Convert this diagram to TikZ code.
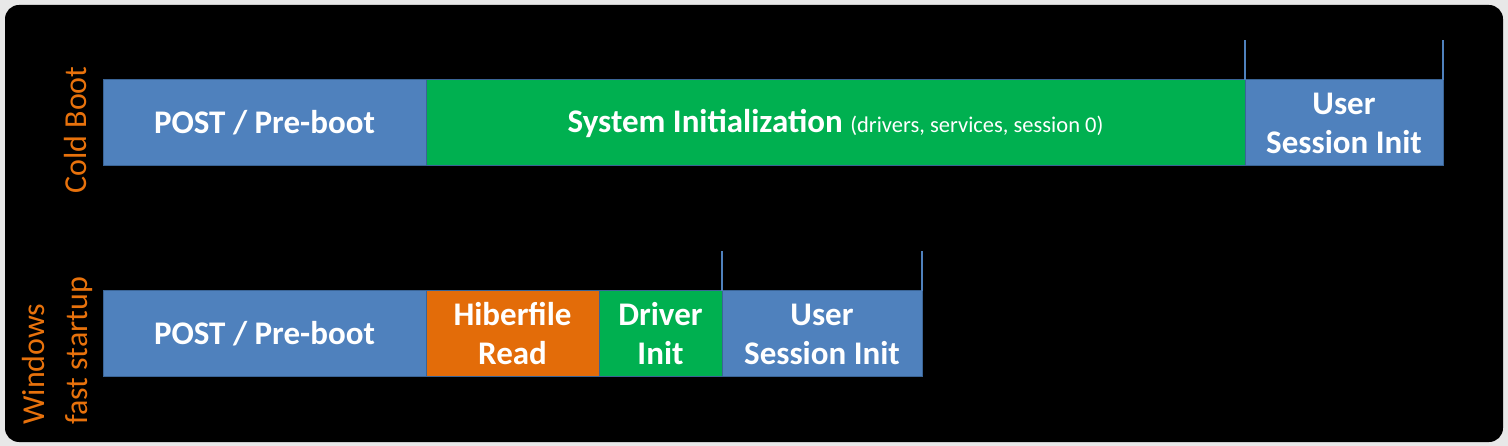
\documentclass[tikz,border=0pt]{standalone}
\usepackage{fontspec}
\setmainfont{Carlito}
\usetikzlibrary{positioning}

\definecolor{phaseblue}{HTML}{4F81BD}
\definecolor{phasegreen}{HTML}{00B050}
\definecolor{phaseorange}{HTML}{E36C09}
\definecolor{phaseline}{HTML}{3A6496}
\definecolor{labelorange}{HTML}{E8720C}

\begin{document}
\begin{tikzpicture}[x=1pt, y=-1pt,
  phase/.style={draw=phaseline, line width=1pt, minimum height=86pt,
    inner sep=0pt, outer sep=0pt, align=center, text=white,
    font=\bfseries\fontsize{33}{39}\selectfont},
  tick/.style={draw=phaseblue, line width=2.5pt},
  rowlabel/.style={text=labelorange, rotate=90, inner sep=0pt,
    font=\fontsize{32}{43}\selectfont}]
% frame
\fill[gray!18] (0,0) rectangle (1508,446);
\fill[black, rounded corners=14pt] (5,5) rectangle (1503,442);

% cold boot
\node[phase, fill=phaseblue, minimum width=323pt, anchor=north west] (post1) at (103,80) {POST / Pre-boot};
\node[phase, fill=phasegreen, minimum width=819pt, right=0pt of post1] (sysinit)
  {System Initialization {\mdseries\fontsize{22.5}{26}\selectfont (drivers, services, session 0)}};
\node[phase, fill=phaseblue, minimum width=198pt, right=0pt of sysinit] (user1) {User\\Session Init};
\draw[tick] (user1.north west) -- ++(0,-40);
\draw[tick] (user1.north east) -- ++(0,-40);

% fast startup
\node[phase, fill=phaseblue, minimum width=323pt, anchor=north west] (post2) at (103,291) {POST / Pre-boot};
\node[phase, fill=phaseorange, minimum width=173pt, right=0pt of post2] (hiber) {Hiberfile\\Read};
\node[phase, fill=phasegreen, minimum width=123pt, right=0pt of hiber] (driver) {Driver\\Init};
\node[phase, fill=phaseblue, minimum width=200pt, right=0pt of driver] (user2) {User\\Session Init};
\draw[tick] (user2.north west) -- ++(0,-40);
\draw[tick] (user2.north east) -- ++(0,-40);

% row labels
\node[rowlabel, anchor=base] (cold) at (86,130) {Cold Boot};
\node[rowlabel, anchor=north west, align=left] (fast) at (22,425) {Windows\\fast startup};
\end{tikzpicture}
\end{document}
